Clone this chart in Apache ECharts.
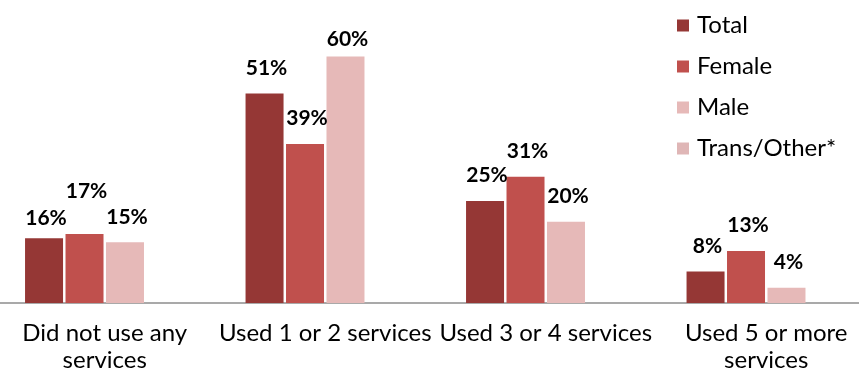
<!DOCTYPE html>
<html>
<head>
<meta charset="utf-8">
<script src="https://cdn.jsdelivr.net/npm/echarts@6/dist/echarts.min.js"></script>
<style>
  html, body { margin: 0; padding: 0; background: #fff; }
  #chart { width: 859px; height: 379px; }
</style>
</head>
<body>
<div id="chart"></div>
<script>
// values (percent)
const categories = ['Did not use any\nservices', 'Used 1 or 2 services', 'Used 3 or 4 services', 'Used 5 or more\nservices'];
const seriesNames = ['Total', 'Female', 'Male', 'Trans/Other*'];
const total = [15.8, 51.1, 24.9, 7.7];
const female = [16.8, 38.8, 30.8, 12.7];
const male = [14.8, 60.1, 19.8, 3.7];
const transOther = [null, null, null, null];

const colors = ['#953735', '#C0504D', '#E6B9B8', '#DFB6B6'];
const font = 'Lato';

// manual label nudges like the original (series index -> category index -> [dx, dy])
const labelNudge = {
  0: { 0: [0, 6] },
  1: { 0: [0, -17] },
  2: { 1: [0, 8] }
};

const values = [total, female, male, transOther];

const series = values.map((arr, si) => ({
  name: seriesNames[si],
  type: 'bar',
  barWidth: 38,
  barGap: '6.5%',
  itemStyle: { color: colors[si] },
  label: {
    show: true,
    position: 'top',
    distance: 15,
    offset: [2, 0],
    color: '#000',
    fontFamily: font,
    fontWeight: 'bold',
    fontSize: 21,
    formatter: p => Math.round(p.value) + '%'
  },
  data: arr.map((v, ci) => {
    const n = labelNudge[si] && labelNudge[si][ci];
    if (v == null) return null;
    return n ? { value: v, label: { offset: [2 + n[0], n[1]] } } : v;
  })
}));

const chart = echarts.init(document.getElementById('chart'));
chart.setOption({
  animation: false,
  grid: { left: -5.5, width: 882, top: 16, bottom: 76, containLabel: false, outerBoundsMode: 'none' },
  legend: {
    orient: 'vertical',
    left: 672,
    top: 8,
    icon: 'rect',
    itemWidth: 12,
    itemHeight: 12,
    itemGap: 16,
    textStyle: { fontFamily: font, fontSize: 24, color: '#000', lineHeight: 25, padding: [0, 0, 0, 3] },
    data: seriesNames
  },
  xAxis: {
    type: 'category',
    data: categories,
    axisLine: { lineStyle: { color: '#8c8c8c', width: 1.5 } },
    axisTick: { length: 6, lineStyle: { color: '#8c8c8c', width: 1.5 } },
    axisLabel: {
      interval: 0,
      margin: 17,
      color: '#000',
      fontFamily: font,
      fontSize: 24,
      lineHeight: 27
    }
  },
  yAxis: {
    type: 'value',
    min: 0,
    max: 70,
    show: false,
    splitLine: { show: false }
  },
  series: series
});
</script>
</body>
</html>
